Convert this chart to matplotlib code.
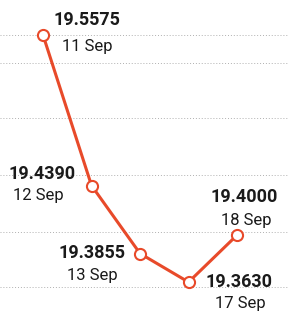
import matplotlib
matplotlib.use("Agg")
import matplotlib.pyplot as plt

dates = ['11 Sep', '12 Sep', '13 Sep', '17 Sep', '18 Sep']
rates = [19.5575, 19.4390, 19.3855, 19.3630, 19.4000]
grid_levels = [19.5575, 19.5355, 19.4921, 19.4473, 19.4024, 19.3591]

# label offsets in pixels: (value dx, value dy, date dx, date dy)
offsets = [(44, 15, 44, -11),
           (-49, 12, -53, -10),
           (-48, 1, -48, -22),
           (50, 0, 52, -21),
           (7, 38, 9, 15)]

plt.rcParams['font.family'] = ['Roboto', 'DejaVu Sans']
red = '#e84a2a'

fig = plt.figure(figsize=(2.88, 3.15), dpi=100)
ax = fig.add_axes([0, 0, 1, 1])

for g in grid_levels:
    ax.axhline(g, color='#b0b0b0', lw=0.7, ls=(0, (1, 2)), zorder=0)

x = list(range(len(dates)))
ax.plot(x, rates, color=red, lw=2.2, marker='o', markersize=8,
        markerfacecolor='white', markeredgecolor=red, markeredgewidth=1.5, zorder=3)

for i, (d, v) in enumerate(zip(dates, rates)):
    vdx, vdy, ddx, ddy = offsets[i]
    ax.annotate(f'{v:.4f}', (i, v), xytext=(vdx, vdy), textcoords='offset pixels',
                ha='center', va='center', fontsize=13, fontweight='bold', color='#1a1a1a')
    ax.annotate(d, (i, v), xytext=(ddx, ddy), textcoords='offset pixels',
                ha='center', va='center', fontsize=12, color='#1a1a1a')

ax.set_xlim(-0.887, 5.05)
ax.set_ylim(19.3371, 19.5851)
ax.axis('off')

fig.savefig('out.png', dpi=100, facecolor='white')
